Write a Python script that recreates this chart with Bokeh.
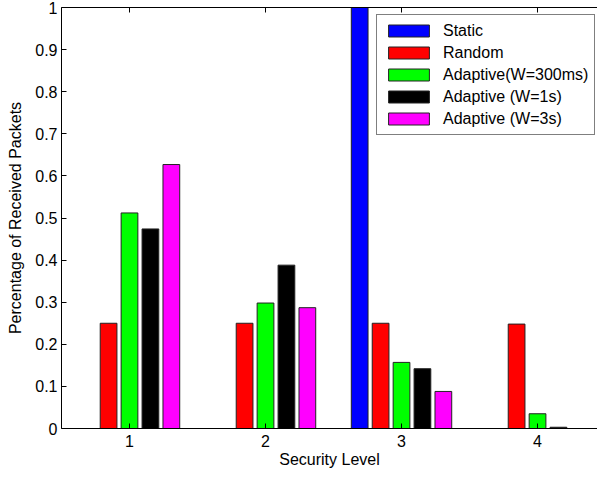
from bokeh.plotting import figure
from bokeh.models import Range1d, FixedTicker, LinearAxis, Legend
from bokeh.embed import file_html
from bokeh.resources import INLINE

# ---- data ----
levels = [1, 2, 3, 4]
static = [0.0, 0.0, 1.0, 0.0]
random_sel = [0.25, 0.25, 0.25, 0.248]
adaptive_300ms = [0.512, 0.298, 0.157, 0.035]
adaptive_1s = [0.474, 0.388, 0.142, 0.003]
adaptive_3s = [0.627, 0.287, 0.088, 0.0]

series_names = ["Static", "Random", "Adaptive(W=300ms)", "Adaptive (W=1s)", "Adaptive (W=3s)"]
series_values = [static, random_sel, adaptive_300ms, adaptive_1s, adaptive_3s]
series_colors = ["#0000FF", "#FF0000", "#00FF00", "#000000", "#FF00FF"]

y_ticks = [0, 0.1, 0.2, 0.3, 0.4, 0.5, 0.6, 0.7, 0.8, 0.9, 1]
y_tick_labels = ["0", "0.1", "0.2", "0.3", "0.4", "0.5", "0.6", "0.7", "0.8", "0.9", "1"]

FONT = "Liberation Sans"

p = figure(width=597, height=470, output_backend="svg", toolbar_location=None,
           x_range=Range1d(0.5, 4.441), y_range=Range1d(0, 1),
           min_border_left=61, min_border_right=0, min_border_top=7, min_border_bottom=40)
p.background_fill_color = "white"
p.border_fill_color = "white"
p.outline_line_color = None
p.xgrid.visible = False
p.ygrid.visible = False

n = len(series_names)
group_width = min(0.8, n / (n + 1.5))
slot = group_width / n
bar_w = slot * 0.8

items = []
for i, (name, vals, col) in enumerate(zip(series_names, series_values, series_colors)):
    off = (i - (n - 1) / 2) * slot
    xs = [lv + off for lv in levels]
    r = p.vbar(x=xs, top=vals, width=bar_w, bottom=0, fill_color=col,
               line_color="#222222", line_width=1)
    items.append((name, [r]))

legend = Legend(items=items, location=(315, 293))
legend.label_text_font = FONT
legend.label_text_font_size = "16px"
legend.label_text_color = "black"
legend.glyph_width = 51
legend.glyph_height = 15
legend.label_height = 19
legend.label_standoff = 9
legend.spacing = 3
legend.padding = 6
legend.margin = 0
legend.border_line_color = "black"
legend.border_line_width = 1
legend.background_fill_alpha = 1
p.add_layout(legend)

# axes
xa = p.xaxis[0]
xa.ticker = FixedTicker(ticks=levels)
xa.axis_label = "Security Level"
ya = p.yaxis[0]
ya.ticker = FixedTicker(ticks=y_ticks)
ya.major_label_overrides = {t: l for t, l in zip(y_ticks, y_tick_labels)}
ya.axis_label = "Percentage of Received Packets"

# top frame edge with inward ticks (no labels)
top_axis = LinearAxis(ticker=FixedTicker(ticks=levels))
top_axis.major_label_text_color = None
top_axis.major_label_text_font_size = "1px"
top_axis.major_label_standoff = 0
p.add_layout(top_axis, "above")

for ax in (xa, ya, top_axis):
    ax.major_tick_in = 5
    ax.major_tick_out = 0
    ax.minor_tick_line_color = None
    ax.axis_line_color = "black"
    ax.major_tick_line_color = "black"
    ax.major_label_text_font = FONT
    ax.axis_label_text_font = FONT
    ax.axis_label_text_font_size = "16px"
    ax.axis_label_text_font_style = "normal"
    ax.axis_label_text_color = "black"

for ax in (xa, ya):
    ax.major_label_text_font_size = "16px"
    ax.major_label_text_color = "black"

xa.major_label_standoff = 6
xa.axis_label_standoff = 1
ya.major_label_standoff = 4
ya.axis_label_standoff = 8

open("out.html", "w").write(file_html(p, INLINE))
